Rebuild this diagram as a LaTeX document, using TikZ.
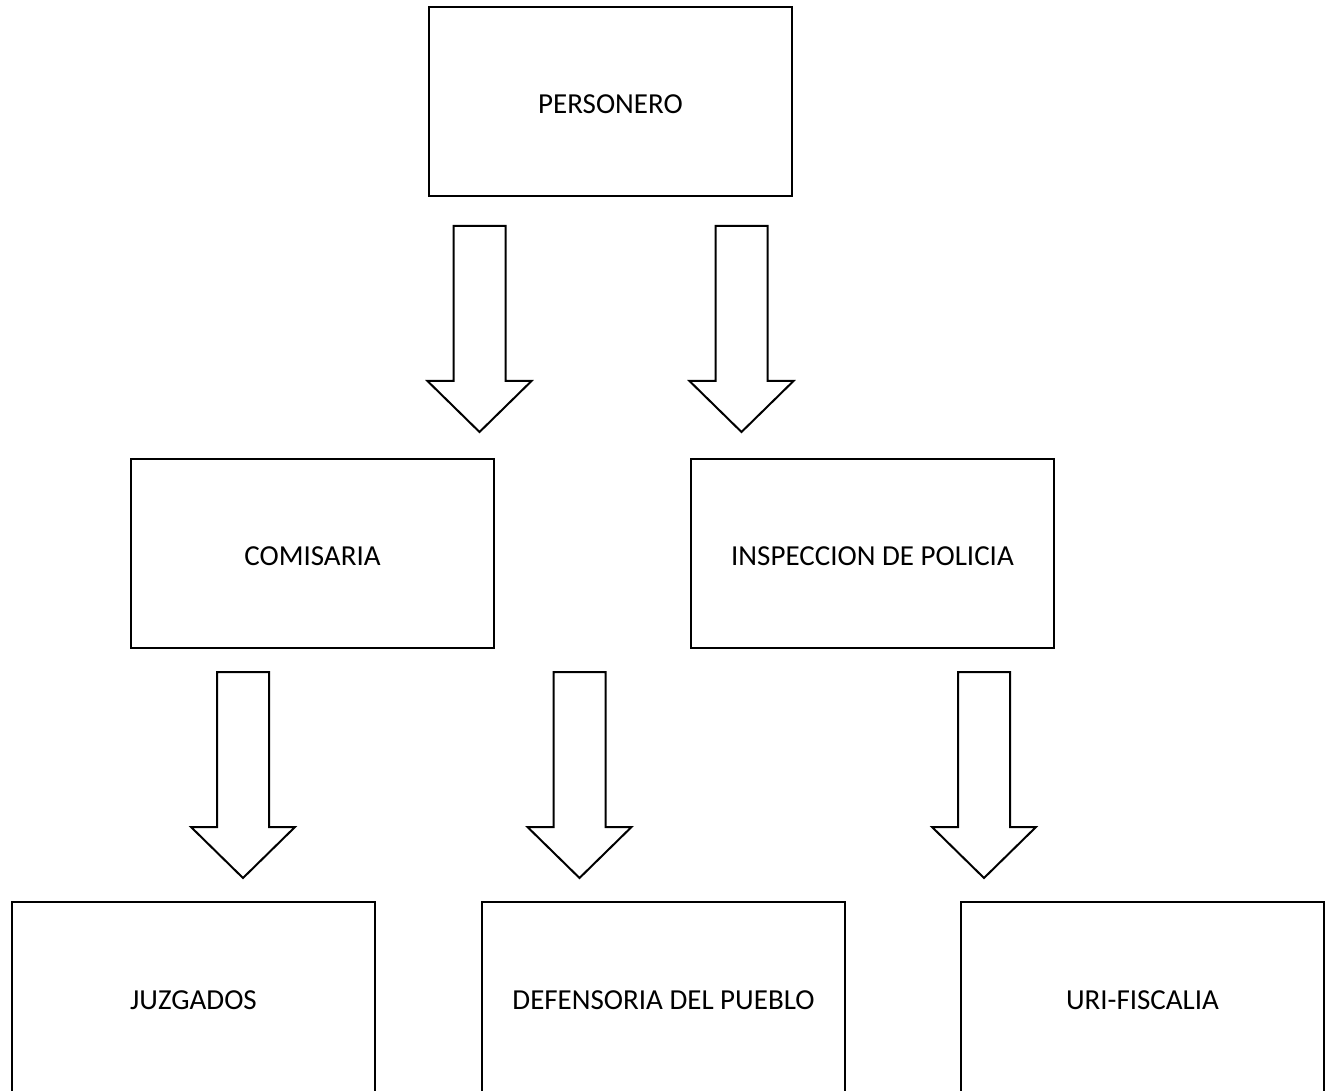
\documentclass[tikz,border=0pt]{standalone}
\usepackage{fontspec}
\setmainfont{Carlito}
\usepackage{tikz}
\usetikzlibrary{positioning}
\tikzset{
  unit/.style={x=0.5pt, y=-0.5pt},
  office/.style={draw, line width=1pt, minimum width=181.5pt, minimum height=94.5pt,
    inner sep=0pt, text height=11.8pt, text depth=0pt,
    font=\fontsize{14.5}{17}\selectfont},
  downarrow/.pic={
    \draw[line width=1pt, line join=miter]
      (-26,0) -- (26,0) -- (26,155) -- (52,155) -- (0,206)
      -- (-52,155) -- (-26,155) -- cycle;
  }
}

\begin{document}
\begin{tikzpicture}[unit]
\useasboundingbox (0,0) rectangle (1334,1091);
\clip (0,0) rectangle (1334,1091);

% ================= Top level =================
\node[office] (personero) at (610.5,101.5) {PERSONERO};

\pic (arrA) at (479.5,226) {downarrow};
\pic (arrB) at (741.5,226) {downarrow};

% ================= Middle level =================
\node[office] (comisaria) at (312.5,553.5) {COMISARIA};
\node[office] (inspeccion) at (872.5,553.5) {INSPECCION DE POLICIA};

\foreach \name/\x in {arrC/243, arrD/579.5, arrE/984}{
  \pic (\name) at (\x,672) {downarrow};
}

% ================= Bottom level (cut at the page edge) =================
\node[office, minimum height=96pt] (juzgados) at (193.5,998) {JUZGADOS};
\node[office, minimum height=96pt] (defensoria) at (663.5,998) {DEFENSORIA DEL PUEBLO};
\node[office, minimum height=96pt] (fiscalia) at (1142.5,998) {URI-FISCALIA};

\end{tikzpicture}
\end{document}
